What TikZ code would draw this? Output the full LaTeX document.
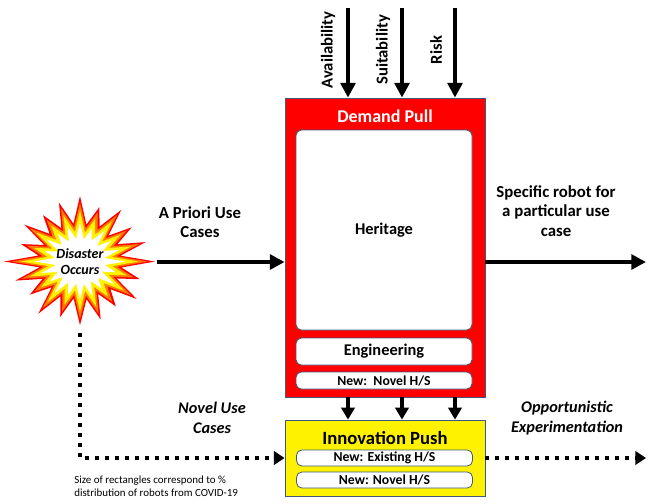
\documentclass[tikz,border=0pt]{standalone}
\usepackage{fontspec}
\setmainfont{Carlito}
\usetikzlibrary{arrows.meta, calc, positioning}
\definecolor{boxLine}{HTML}{41597F}
\definecolor{burstOrange}{HTML}{FF7A00}
\tikzset{
    pullBox/.style={draw=boxLine, fill=red, line width=0.6pt, minimum width=150pt, minimum height=224.25pt, inner sep=0pt},
    pushBox/.style={draw=boxLine, fill=yellow, line width=0.6pt, minimum width=150pt, minimum height=57pt, inner sep=0pt},
    subBox/.style={draw=boxLine, fill=white, line width=0.6pt, rounded corners=4pt, minimum width=132pt, inner sep=0pt, font=\bfseries\fontsize{12.3}{14}\selectfont},
    thinBox/.style={subBox, font=\bfseries\fontsize{10.3}{11}\selectfont},
    boxTitle/.style={font=\bfseries\fontsize{13.5}{15}\selectfont, inner sep=0pt},
    flowLabel/.style={font=\bfseries\fontsize{12.6}{14.6}\selectfont, align=center, inner sep=0pt},
    flowItalic/.style={flowLabel, font=\bfseries\itshape\fontsize{12.2}{14.6}\selectfont},
    factorLabel/.style={font=\bfseries\fontsize{12.5}{14}\selectfont, rotate=90, inner sep=0pt},
    bigArrow/.style={-{Triangle[width=11pt,length=11pt]}, line width=3pt},
    shortArrow/.style={-{Triangle[width=10pt,length=9pt]}, line width=3pt},
    dotArrow/.style={-{Triangle[width=10pt,length=8pt]}, line width=3pt, dash pattern=on 3pt off 4.5pt},
}
\newcommand{\drawBurst}[2]{
    \fill[#1, shift={(burst)}, scale=#2, yscale=0.91] (0:75) \foreach \a/\r in {9/42, 18/63, 27/41, 36/70, 45/43, 54/61, 63/40, 72/67, 81/42, 90/70, 99/41, 108/64, 117/43, 126/71, 135/40, 144/62, 153/42, 162/68, 171/41, 180/76, 189/42, 198/62, 207/40, 216/69, 225/43, 234/63, 243/41, 252/68, 261/42, 270/72, 279/41, 288/63, 297/43, 306/70, 315/40, 324/64, 333/42, 342/69, 351/41} { -- (\a:\r) } -- cycle;
}

\begin{document}
\begin{tikzpicture}[x=0.75pt, y=-0.75pt]
    \useasboundingbox (0,0) rectangle (647,504);

    % disaster burst
    \coordinate (burst) at (80,261.5);
    \drawBurst{red}{1}
    \drawBurst{burstOrange}{0.9}
    \drawBurst{yellow}{0.78}
    \drawBurst{white}{0.6}
    \node[font=\bfseries\itshape\fontsize{10.5}{12}\selectfont, align=center] (disaster) at (burst) {Disaster\\Occurs};

    % demand pull
    \node[pullBox] (demand) at (385,247.5) {};
    \node[boxTitle, white] (demandTitle) at (385,116) {Demand Pull};
    \node[subBox, minimum height=150pt] (heritage) at (384,230) {Heritage};
    \node[subBox, minimum height=20.25pt] (engineering) at (384,351.5) {Engineering};
    \node[thinBox, minimum height=12.75pt] (novelPull) at (384,380.5) {New:~~Novel H/S};

    % innovation push
    \node[pushBox] (innovation) at (385,458) {};
    \node[boxTitle, font=\bfseries\fontsize{14}{16}\selectfont] (innovationTitle) at (385,438) {Innovation Push};
    \node[thinBox, minimum height=12pt] (existing) at (384.5,458) {New: Existing H/S};
    \node[thinBox, minimum height=12pt] (novelPush) at (384.5,480) {New: Novel H/S};

    % factors
    \foreach \name/\x/\lx/\txt in {avail/348/328/Availability, suit/402/383/Suitability, risk/455/436/Risk} {
        \coordinate (\name Top) at (\x,8);
        \node[factorLabel] (\name Label) at (\lx,50) {\txt};
        \draw[bigArrow] (\name Top) -- (\name Top |- demand.north);
        \draw[shortArrow] (\name Top |- demand.south) -- (\name Top |- innovation.north);
    }

    % flows
    \coordinate (aprioriStart) at (157,262);
    \coordinate (specificEnd) at (646,262);
    \coordinate (burstFoot) at (80,333);
    \coordinate (opportunEnd) at (646,458);
    \draw[bigArrow] (aprioriStart) -- (aprioriStart -| demand.west);
    \draw[bigArrow] (specificEnd -| demand.east) -- (specificEnd);
    \draw[dotArrow] (burstFoot) |- (innovation.west);
    \draw[dotArrow] (innovation.east) -- (opportunEnd);

    \node[flowLabel] (apriori) at (200,222) {A Priori Use\\Cases};
    \node[flowLabel] (specific) at (556,211) {Specific robot for\\a particular use\\case};
    \node[flowItalic] (novelUse) at (212,418) {Novel Use\\Cases};
    \node[flowItalic] (opportun) at (567,418) {Opportunistic\\Experimentation};
    \node[font=\fontsize{8.2}{9.8}\selectfont, align=left, anchor=north west, inner sep=0pt] (footnote) at (74,476) {Size of rectangles correspond to \%\\distribution of robots from COVID-19};
\end{tikzpicture}
\end{document}
